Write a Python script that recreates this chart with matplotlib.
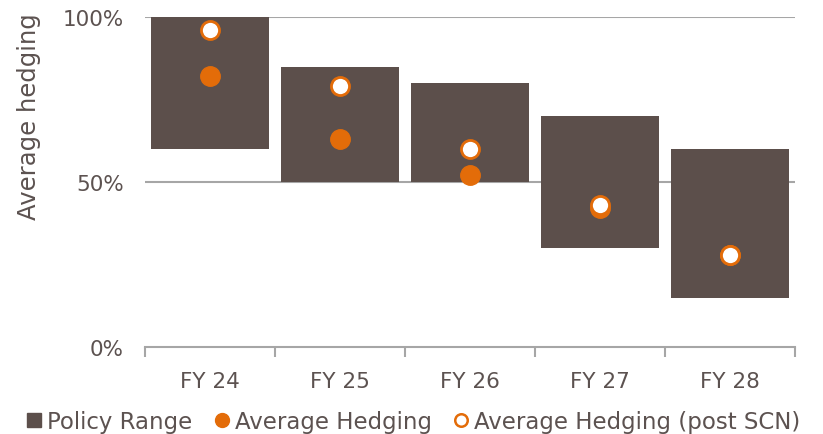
import matplotlib
matplotlib.use("Agg")
import matplotlib.pyplot as plt
from matplotlib.lines import Line2D
import numpy as np

categories = ["FY 24", "FY 25", "FY 26", "FY 27", "FY 28"]
policy_low = [60, 50, 50, 30, 15]
policy_high = [100, 85, 80, 70, 60]
avg_hedging = [82, 63, 52, 42, 28]
avg_hedging_post = [96, 79, 60, 43, 28]

bar_color = "#5C4F4B"
orange = "#E36C09"
text_color = "#5C5250"
grid_color = "#A6A6A6"

plt.rcParams['font.family'] = ['DejaVu Sans']

fig = plt.figure(figsize=(8.23, 4.35), dpi=100)
ax = fig.add_axes([0.176, 0.2, 0.79, 0.7586])

x = np.arange(len(categories))
heights = [h - l for h, l in zip(policy_high, policy_low)]
ax.bar(x, heights, bottom=policy_low, width=0.91, color=bar_color, zorder=2)
ax.plot(x, avg_hedging, linestyle="none", marker="o", markersize=14,
        markerfacecolor=orange, markeredgecolor=orange, zorder=3)
ax.plot(x, avg_hedging_post, linestyle="none", marker="o", markersize=13,
        markerfacecolor="white", markeredgecolor=orange, markeredgewidth=2, zorder=4)

ax.set_xlim(-0.5, len(categories) - 0.5)
ax.set_ylim(0, 100)
ax.set_yticks([0, 50, 100])
ax.set_yticklabels(["0%", "50%", "100%"])
for y in [50, 100]:
    ax.axhline(y, color=grid_color, linewidth=1.5, zorder=1)

for s in ["top", "right", "left"]:
    ax.spines[s].set_visible(False)
ax.spines["bottom"].set_color(grid_color)
ax.spines["bottom"].set_linewidth(1.5)

ax.set_xticks(x)
ax.set_xticklabels(categories)
ax.set_xticks(np.arange(-0.5, len(categories)), minor=True)
ax.tick_params(axis="x", which="major", length=0, pad=17, labelsize=15.5, labelcolor=text_color)
ax.tick_params(axis="x", which="minor", length=7, width=1.5, color=grid_color, direction="out")
ax.tick_params(axis="y", length=0, pad=15, labelsize=15.5, labelcolor=text_color)

ax.set_ylabel("Average hedging", fontsize=17.5, color=text_color)
ax.yaxis.set_label_coords(-0.16, 0.7)

handles = [
    Line2D([], [], linestyle="none", marker="s", markersize=10, markerfacecolor=bar_color, markeredgecolor=bar_color),
    Line2D([], [], linestyle="none", marker="o", markersize=10, markerfacecolor=orange, markeredgecolor=orange),
    Line2D([], [], linestyle="none", marker="o", markersize=9, markerfacecolor="white", markeredgecolor=orange, markeredgewidth=1.8),
]
labels = ["Policy Range", "Average Hedging", "Average Hedging (post SCN)"]
fig.legend(handles, labels, loc="lower center", bbox_to_anchor=(0.5, -0.045), ncol=3, frameon=False,
           fontsize=16.5, labelcolor=text_color, handletextpad=0.05, columnspacing=0.8, handlelength=1.0)

fig.savefig("out.png", dpi=100)
